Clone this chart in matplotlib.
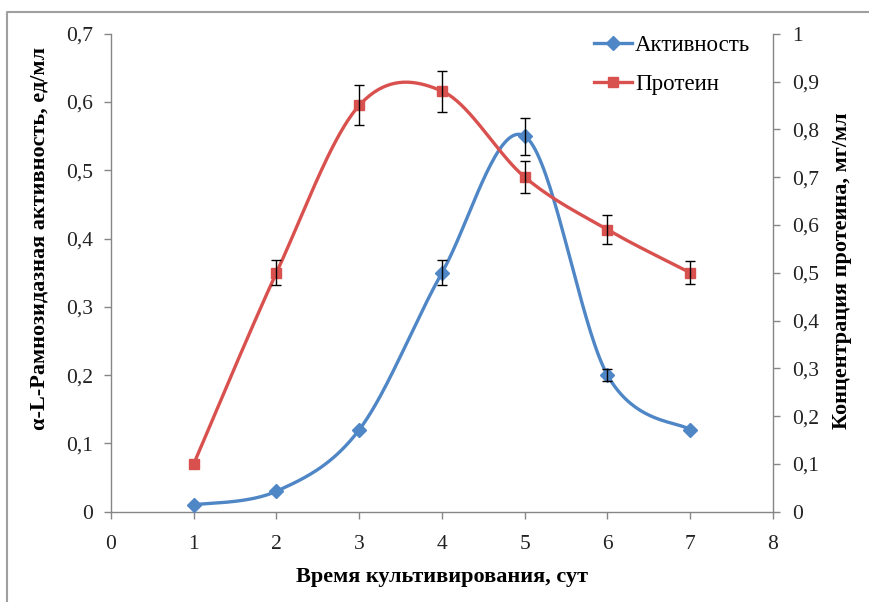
import numpy as np
import matplotlib
matplotlib.use('Agg')
import matplotlib.pyplot as plt
from matplotlib.ticker import FuncFormatter
from matplotlib.lines import Line2D

plt.rcParams['font.family'] = ['Liberation Serif', 'DejaVu Serif']

# data
days = [1, 2, 3, 4, 5, 6, 7]
activity = [0.01, 0.03, 0.12, 0.35, 0.55, 0.20, 0.12]        # left axis, ед/мл
activity_err = [0, 0, 0, 0.018, 0.027, 0.009, 0]
protein = [0.10, 0.50, 0.85, 0.88, 0.70, 0.59, 0.50]         # right axis, мг/мл
protein_err = [0, 0.026, 0.042, 0.043, 0.034, 0.030, 0.024]

blue = '#4F86C6'
red = '#D9514E'


def smooth(x, y, n=40):
    # excel-like smoothed line: cubic bezier through the points
    x = np.asarray(x, float)
    y = np.asarray(y, float)
    px = np.concatenate([[x[0]], x, [x[-1]]])
    py = np.concatenate([[y[0]], y, [y[-1]]])
    t = np.linspace(0, 1, n)[:, None]
    out = []
    for i in range(len(x) - 1):
        p0 = np.array([px[i], py[i]])
        p1 = np.array([x[i], y[i]])
        p2 = np.array([x[i + 1], y[i + 1]])
        p3 = np.array([px[i + 3], py[i + 3]])
        c1 = p1 + (p2 - p0) / 6
        c2 = p2 - (p3 - p1) / 6
        b = ((1 - t) ** 3) * p1 + 3 * ((1 - t) ** 2) * t * c1 \
            + 3 * (1 - t) * t ** 2 * c2 + t ** 3 * p2
        out.append(b if i == 0 else b[1:])
    b = np.vstack(out)
    return b[:, 0], b[:, 1]


def comma(v, pos):
    s = ('%.1f' % v).rstrip('0').rstrip('.')
    return s.replace('.', ',')


fig = plt.figure(figsize=(8.69, 6.02), dpi=100)
ax = fig.add_axes([0.1277, 0.15, 0.7618, 0.794])
ax2 = ax.twinx()

# left: activity
sx, sy = smooth(days, activity)
ax.plot(sx, sy, color=blue, lw=2.4, solid_capstyle='round', zorder=2)
ax.plot(days, activity, 'D', color=blue, ms=7.5, zorder=3)
ea = [i for i, e in enumerate(activity_err) if e > 0]
ax.errorbar([days[i] for i in ea], [activity[i] for i in ea],
            yerr=[activity_err[i] for i in ea], fmt='none', ecolor='black',
            elinewidth=1, capsize=3.5, capthick=1, zorder=4)

# right: protein
sx, sy = smooth(days, protein)
ax2.plot(sx, sy, color=red, lw=2.4, solid_capstyle='round', zorder=2)
ax2.plot(days, protein, 's', color=red, ms=7, zorder=3)
ep = [i for i, e in enumerate(protein_err) if e > 0]
ax2.errorbar([days[i] for i in ep], [protein[i] for i in ep],
             yerr=[protein_err[i] for i in ep], fmt='none', ecolor='black',
             elinewidth=1, capsize=3.5, capthick=1, zorder=4)

ax.set_xlim(0, 8)
ax.set_ylim(0, 0.7)
ax2.set_ylim(0, 1)
ax.set_xticks(range(0, 9))
ax.set_yticks(np.arange(0, 0.71, 0.1))
ax2.set_yticks(np.arange(0, 1.01, 0.1))
ax.yaxis.set_major_formatter(FuncFormatter(comma))
ax2.yaxis.set_major_formatter(FuncFormatter(comma))

for a in (ax, ax2):
    a.spines['top'].set_visible(False)
    for s in a.spines.values():
        s.set_color('#868686')
        s.set_linewidth(1)
    a.tick_params(length=5, width=1, color='#868686', labelsize=15.5,
                  labelcolor='#222222')
ax.spines['right'].set_visible(False)
ax2.spines['left'].set_visible(False)
ax2.spines['bottom'].set_visible(False)
ax.tick_params(axis='y', pad=8)
ax.tick_params(axis='x', pad=12)
ax2.tick_params(axis='y', pad=9)

ax.set_xlabel('Время культивирования, сут', fontsize=16, fontweight='bold',
              labelpad=9)
fig.text(40 / 869, 1 - 238 / 602, 'α-L-Рамнозидазная активность, ед/мл',
         rotation=90, ha='center', va='center', fontsize=16, fontweight='bold')
fig.text(842 / 869, 1 - 271 / 602, 'Концентрация протеина, мг/мл',
         rotation=90, ha='center', va='center', fontsize=16, fontweight='bold')

handles = [Line2D([], [], color=blue, lw=2.4, marker='D', ms=7.5),
           Line2D([], [], color=red, lw=2.4, marker='s', ms=7)]
ax2.legend(handles, ['Активность', 'Протеин'], loc='upper left',
           bbox_to_anchor=(594 / 869, 1 - 35 / 602),
           bbox_transform=fig.transFigure, frameon=False, fontsize=16.5,
           handlelength=1.65, handletextpad=0.15, labelspacing=0.8,
           borderpad=0, borderaxespad=0)

# outer frame of the picture (only top and left edges visible)
fig.add_artist(Line2D([7 / 869, 7 / 869, 1], [0, 1 - 12 / 602, 1 - 12 / 602],
                      transform=fig.transFigure, color='#A0A0A0', lw=1.5))

fig.savefig('out.png', dpi=100)
